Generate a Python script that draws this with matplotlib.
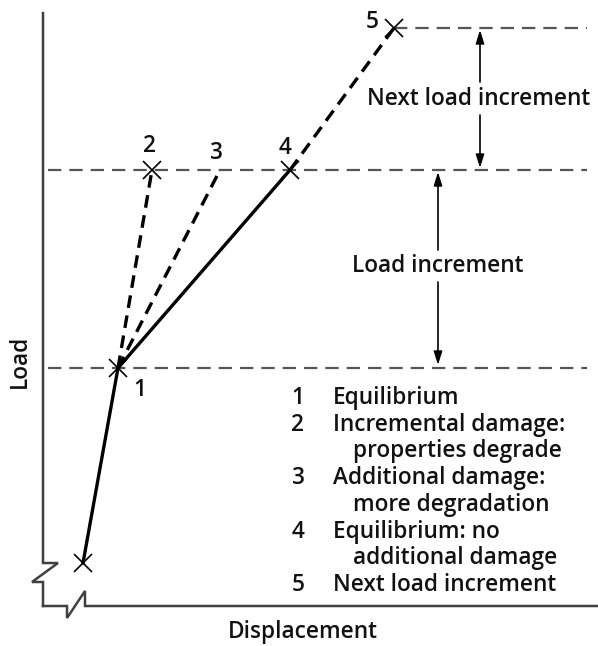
import matplotlib.pyplot as plt

# --- dados do esquema (coordenadas em "pixels" do desenho, y para baixo) ---
# caminho de equilíbrio: ponto inicial -> 1 -> 4
caminho_x = [83, 118, 290]
caminho_y = [563, 368, 170]

# tentativas tracejadas a partir do ponto 1 (2, 3) e de 4 para 5
ponto1 = (118, 368)
ponto2 = (152, 170)
ponto3 = (220, 170)
ponto4 = (290, 170)
ponto5 = (394, 28)

# níveis de carga (linhas horizontais tracejadas)
niveis_carga = [28, 170, 368]
inicio_niveis = [394, 48, 48]
fim_nivel = 587

rotulos_pontos = ['1', '2', '3', '4', '5']
rotulos_x = [140, 150, 216, 285, 372]
rotulos_y = [390, 146, 153, 148, 22]

legenda_num = ['1', '2', '', '3', '', '4', '', '5']
legenda_txt = ['Equilibrium', 'Incremental damage:', 'properties degrade',
               'Additional damage:', 'more degradation',
               'Equilibrium: no', 'additional damage', 'Next load increment']

FONTE = 'Open Sans'
PESO = 'semibold'
TAM = 16.3
txt = dict(fontsize=TAM, family=FONTE, weight=PESO, color='#111111')

fig = plt.figure(figsize=(5.98, 6.46), dpi=100)
ax = fig.add_axes([0, 0, 1, 1])
ax.set_xlim(0, 598)
ax.set_ylim(646, 0)
ax.axis('off')

cinza_eixo = '#404040'
cinza_tr = '#555555'

# eixos com quebras em zigue-zague
ax.plot([43, 43, 58, 32, 43, 43], [13, 563, 563, 582, 582, 606],
        color=cinza_eixo, lw=1.8, solid_joinstyle='miter')
ax.plot([43, 67, 67, 85, 85, 598], [606, 606, 618, 591, 606, 606],
        color=cinza_eixo, lw=1.8, solid_joinstyle='miter')

# linhas de nível
for y, x0 in zip(niveis_carga, inicio_niveis):
    ax.plot([x0, fim_nivel], [y, y], color=cinza_tr, lw=1.6, dashes=(6, 3.6))

# caminho sólido
ax.plot(caminho_x, caminho_y, color='black', lw=2.4)
# tentativas tracejadas
for p in (ponto2, ponto3):
    ax.plot([ponto1[0], p[0]], [ponto1[1], p[1]], color='black', lw=2.4, dashes=(3.8, 2.3))
ax.plot([ponto4[0], ponto5[0]], [ponto4[1], ponto5[1]], color='black', lw=2.4, dashes=(3.8, 2.3))

# marcadores X
mx = [caminho_x[0], ponto1[0], ponto2[0], ponto4[0], ponto5[0]]
my = [caminho_y[0], ponto1[1], ponto2[1], ponto4[1], ponto5[1]]
ax.plot(mx, my, linestyle='none', marker='x', ms=13, mew=1.2, color='black')

for r, x, y in zip(rotulos_pontos, rotulos_x, rotulos_y):
    ax.text(x, y, r, ha='center', va='center', **txt)

# setas dos incrementos
seta = dict(arrowstyle='-|>,head_length=0.8,head_width=0.25', color='black', lw=1.2,
            shrinkA=0, shrinkB=0)
ax.annotate('', xy=(480, 30), xytext=(480, 82), arrowprops=seta)
ax.annotate('', xy=(480, 168), xytext=(480, 115), arrowprops=seta)
ax.text(479, 99, 'Next load increment', ha='center', va='center', **txt)

ax.annotate('', xy=(438, 172), xytext=(438, 250), arrowprops=seta)
ax.annotate('', xy=(438, 365), xytext=(438, 282), arrowprops=seta)
ax.text(438, 266, 'Load increment', ha='center', va='center', **txt)

# legenda
y0 = 398
for i, (n, t) in enumerate(zip(legenda_num, legenda_txt)):
    y = y0 + i * 26.7
    if n:
        ax.text(298, y, n, ha='center', va='center', **txt)
        ax.text(333, y, t, ha='left', va='center', **txt)
    else:
        ax.text(353, y, t, ha='left', va='center', **txt)

# rótulos dos eixos
ax.text(20, 361, 'Load', rotation=90, ha='center', va='center', **txt)
ax.text(303, 632, 'Displacement', ha='center', va='center', **txt)

fig.savefig('out.png', dpi=100)
